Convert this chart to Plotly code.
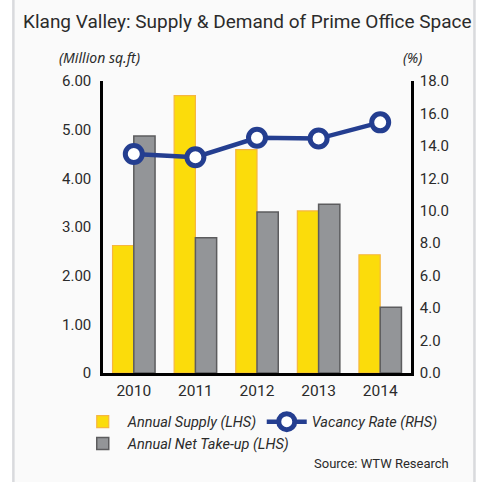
import plotly.graph_objects as go

years = ["2010", "2011", "2012", "2013", "2014"]
annual_supply = [2.62, 5.70, 4.59, 3.33, 2.43]
net_take_up = [4.87, 2.78, 3.31, 3.47, 1.35]
vacancy_rate = [13.5, 13.3, 14.5, 14.45, 15.45]

left_ticks = [0, 1, 2, 3, 4, 5, 6]
left_labels = ["0", "1.00", "2.00", "3.00", "4.00", "5.00", "6.00"]
right_ticks = [0, 2, 4, 6, 8, 10, 12, 14, 16, 18]
right_labels = ["%.1f" % v for v in right_ticks]

NARROW = "Roboto, Liberation Sans, sans-serif"
TXT = "#2b2b2b"

fig = go.Figure()

fig.add_trace(go.Bar(
    x=years, y=annual_supply, name="Annual Supply (LHS)",
    marker=dict(color="#fbdc0b", line=dict(color="#f6b640", width=1.2)),
    offsetgroup="a", legendrank=1,
))
fig.add_trace(go.Scatter(
    x=years, y=vacancy_rate, name="Vacancy Rate (RHS)", yaxis="y2",
    mode="lines+markers",
    line=dict(color="#243e90", width=4.5),
    marker=dict(size=17, color="white", line=dict(color="#243e90", width=5)),
    legendrank=2,
))
fig.add_trace(go.Bar(
    x=years, y=net_take_up, name="Annual Net Take-up (LHS)",
    marker=dict(color="#939598", line=dict(color="#5c5c5e", width=1.5)),
    offsetgroup="b", legendrank=3,
))

# panel background with grey side borders
fig.add_shape(type="rect", xref="paper", yref="paper", x0=-0.295, x1=1.21, y0=-0.40, y1=1.30,
              fillcolor="#fafafa", line_width=0, layer="below")
for xx in [-0.291, 1.206]:
    fig.add_shape(type="line", xref="paper", yref="paper", x0=xx, x1=xx, y0=-0.40, y1=1.30,
                  line=dict(color="#d9dadd", width=2.5))

fig.update_layout(
    width=484, height=482,
    margin=dict(l=103, r=73, t=81, b=109, autoexpand=False),
    paper_bgcolor="white", plot_bgcolor="#fafafa",
    barmode="group", bargap=0.31, bargroupgap=0,
    font=dict(family=NARROW, size=15, color=TXT),
    xaxis=dict(showline=True, linecolor="black", linewidth=2.5, ticks="",
               tickfont=dict(size=15.5), showgrid=False, ticklabelstandoff=2),
    yaxis=dict(range=[0, 6], tickvals=left_ticks, ticktext=left_labels, showgrid=False,
               showline=True, linecolor="black", linewidth=2.5, ticks="", zeroline=False,
               ticklabelstandoff=6),
    yaxis2=dict(range=[0, 18], tickvals=right_ticks, ticktext=right_labels, overlaying="y",
                side="right", showgrid=False, showline=True, linecolor="black", linewidth=2.5,
                ticks="", zeroline=False, ticklabelstandoff=3),
    legend=dict(orientation="h", x=-0.082, y=-0.112, xanchor="left", yanchor="top",
                entrywidth=129, entrywidthmode="pixels", bgcolor="rgba(0,0,0,0)",
                font=dict(family=NARROW, size=14.5, color=TXT, style="italic"),
                tracegroupgap=0, itemwidth=40),
    showlegend=True,
)

fig.add_annotation(text="Klang Valley: Supply & Demand of Prime Office Space", xref="paper", yref="paper",
                   x=0.468, y=1.205, xanchor="center", yanchor="middle", showarrow=False,
                   font=dict(family=NARROW, size=19, color=TXT))
fig.add_annotation(text="(Million sq.ft)", xref="paper", yref="paper", x=-0.01, y=1.08,
                   xanchor="center", yanchor="middle", showarrow=False,
                   font=dict(family="Noto Sans", size=14, color=TXT, style="italic"))
fig.add_annotation(text="(%)", xref="paper", yref="paper", x=1.005, y=1.08,
                   xanchor="center", yanchor="middle", showarrow=False,
                   font=dict(family="Noto Sans", size=14, color=TXT, style="italic"))
fig.add_annotation(text="Source: WTW Research", xref="paper", yref="paper", x=1.13, y=-0.31,
                   xanchor="right", yanchor="middle", showarrow=False,
                   font=dict(family=NARROW, size=13, color=TXT))

fig.write_html("out.html", config={"displayModeBar": False},
               post_script="document.body.style.margin='0';")
